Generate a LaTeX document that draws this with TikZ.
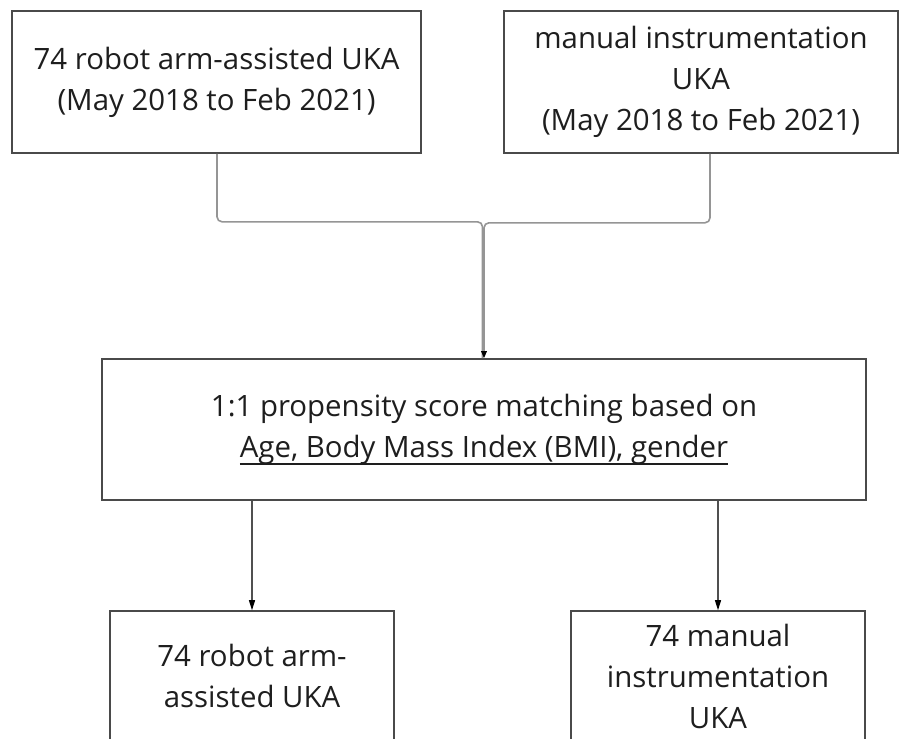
\documentclass[tikz,border=0pt]{standalone}
\usepackage{fontspec}
\setmainfont{Open Sans}
\usetikzlibrary{arrows.meta}
\definecolor{boxline}{HTML}{4A4A4A}
\definecolor{ink}{HTML}{1E1E1E}
\definecolor{feedgray}{HTML}{959595}
\definecolor{dropgray}{HTML}{505050}
% underline drawn as a rule just below the descenders
\newcommand\criterialine[1]{\setbox0\hbox{#1}\rlap{\rule[-7.5pt]{\wd0}{2pt}}\box0}
\begin{document}
\begin{tikzpicture}[x=1pt,y=-1pt,
  box/.style={draw=boxline, line width=1.6pt, inner sep=0pt, align=center,
              text=ink, font=\fontsize{29.4}{41}\selectfont},
  feed/.style={draw=feedgray, line width=1.6pt, rounded corners=5pt},
  drop/.style={draw=dropgray, line width=1.1pt,
               -{Triangle[length=10pt,width=6pt,color=black]}}
]
\clip (0,0) rectangle (901,738);
\fill[white] (0,0) rectangle (901,738);

% source cohorts
\node[box, minimum width=409pt, minimum height=142pt] (tl) at (216.5,82)
  {74 robot arm-assisted UKA\\(May 2018 to Feb 2021)};
\node[box, minimum width=394pt, minimum height=142pt] (tr) at (701,82)
  {manual instrumentation\\UKA\\(May 2018 to Feb 2021)};

% matching step
\node[box, minimum width=764pt, minimum height=141pt] (pm) at (484,429.5)
  {1:1 propensity score matching based on\\\criterialine{Age, Body Mass Index (BMI), gender}};

% matched groups (run past the lower edge)
\node[box, minimum width=284pt, minimum height=130pt] (rb) at (252,676)
  {74 robot arm-\\assisted UKA};
\node[box, minimum width=294pt, minimum height=130pt] (mn) at (718,676)
  {74 manual\\instrumentation\\UKA};

% merging connectors
\draw[feed] ([xshift=0.5pt]tl.south) -- ++(0,68) -| ([xshift=-1.5pt]pm.north);
\draw[feed, -{Triangle[length=7pt,width=5.5pt,color=black]}]
  ([xshift=9pt]tr.south) -- ++(0,69) -| ([xshift=0pt]pm.north);

% split arrows
\draw[drop] (pm.south -| rb.north) -- (rb.north);
\draw[drop] (pm.south -| mn.north) -- (mn.north);
\end{tikzpicture}
\end{document}
